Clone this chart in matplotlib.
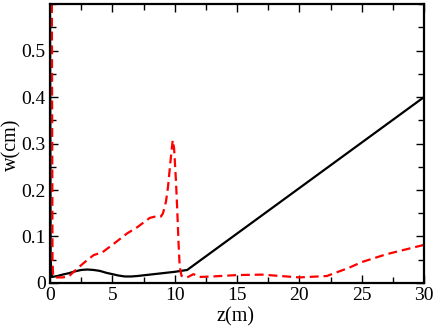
import numpy as np
import matplotlib
matplotlib.use("Agg")
import matplotlib.pyplot as plt
from matplotlib.ticker import MultipleLocator, FuncFormatter

# black solid curve
z_black = [0.0, 0.05, 0.15, 0.6, 1.0, 1.5, 2.0, 2.5, 3.0, 3.5, 4.0, 4.5, 5.0, 5.5, 6.0, 6.5, 7.0,
           8.0, 9.0, 10.0, 10.5, 11.0, 30.0]
w_black = [0.6, 0.05, 0.013, 0.015, 0.018, 0.021, 0.025, 0.028, 0.029, 0.028, 0.026, 0.022, 0.019,
           0.016, 0.014, 0.014, 0.015, 0.018, 0.021, 0.024, 0.026, 0.028, 0.40]

# red dashed curve
z_red = [0.15, 0.2, 0.25, 0.5, 1.0, 1.5, 1.9, 2.7, 3.5, 4.2, 5.0, 6.2, 7.0, 8.0, 8.6, 8.9, 9.06, 9.3,
         9.46, 9.67, 9.84, 9.95, 10.1, 10.2, 10.3, 10.4, 10.55, 11.0, 11.5, 12.0, 13.0, 15.0, 17.0,
         20.0, 22.2, 24.0, 25.0, 27.0, 30.0]
w_red = [0.6, 0.05, 0.014, 0.012, 0.012, 0.014, 0.024, 0.043, 0.060, 0.066, 0.082, 0.107, 0.120, 0.140,
         0.144, 0.143, 0.150, 0.175, 0.206, 0.264, 0.307, 0.290, 0.220, 0.160, 0.090, 0.035, 0.015,
         0.012, 0.019, 0.013, 0.014, 0.017, 0.018, 0.012, 0.015, 0.033, 0.045, 0.062, 0.082]

plt.rcParams['font.family'] = ['Liberation Serif', 'DejaVu Serif']

fig = plt.figure(figsize=(4.36, 3.27), dpi=100)
ax = fig.add_axes([0.1147, 0.1346, 0.858, 0.853])

ax.plot(z_black, w_black, color='black', lw=1.6)
ax.plot(z_red, w_red, color='red', lw=1.6, dashes=(4, 2.2))

ax.set_xlim(0, 30)
ax.set_ylim(0, 0.6)
ax.xaxis.set_major_locator(MultipleLocator(5))
ax.xaxis.set_minor_locator(MultipleLocator(2.5))
ax.yaxis.set_minor_locator(MultipleLocator(0.05))
ax.set_yticks(np.arange(0, 0.55, 0.1))
ax.yaxis.set_major_formatter(FuncFormatter(lambda v, p: "0" if abs(v) < 1e-9 else f"{v:.1f}"))

ax.tick_params(which='both', direction='in', top=True, right=True, labelsize=14, width=1.0)
ax.tick_params(which='major', length=6)
ax.tick_params(which='minor', length=4)
ax.tick_params(axis='x', which='major', pad=3)
ax.tick_params(axis='y', which='major', pad=3)
for s in ax.spines.values():
    s.set_linewidth(1.6)

ax.set_xlabel('z(m)', fontsize=14.5)
ax.set_ylabel('w(cm)', fontsize=14.5)
ax.xaxis.set_label_coords(0.495, -0.088)
ax.yaxis.set_label_coords(-0.077, 0.496)

fig.savefig('out.png', dpi=100)
